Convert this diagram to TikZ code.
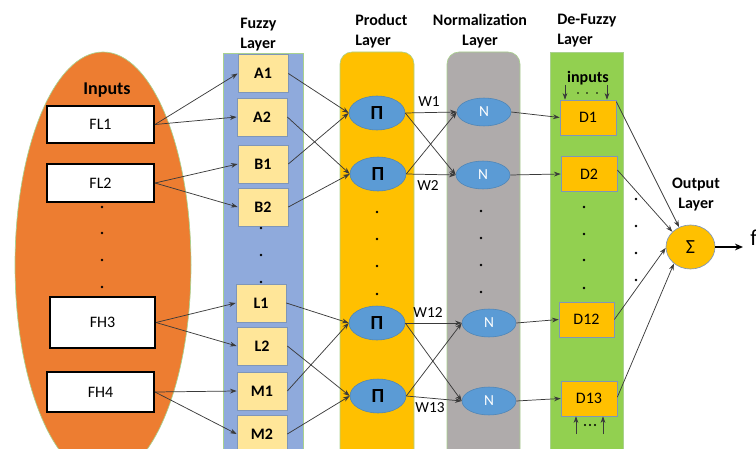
\documentclass[tikz,border=0pt]{standalone}
\usepackage{fontspec}
\setmainfont{Carlito}
\usetikzlibrary{arrows.meta,shapes.geometric}

\definecolor{inorange}{HTML}{ED7D31}
\definecolor{fuzzblue}{HTML}{8FAADC}
\definecolor{lightyel}{HTML}{FFE699}
\definecolor{gold}{HTML}{FFC000}
\definecolor{nodeblue}{HTML}{5B9BD5}
\definecolor{normgray}{HTML}{AFABAB}
\definecolor{defgreen}{HTML}{92D050}
\definecolor{rimgreen}{HTML}{A9D18E}
\definecolor{boxrim}{HTML}{7F96B8}
\definecolor{wire}{HTML}{3A3A3A}

\begin{document}
\begin{tikzpicture}[x=0.75pt,y=-0.75pt,
  every node/.style={font=\fontsize{12}{15}\selectfont},
  title/.style={font=\fontsize{12}{15}\selectfont\bfseries, inner sep=0pt},
  inbox/.style={draw=black, line width=1.5pt, fill=white,
    minimum width=80.25pt, minimum height=28pt, inner sep=0pt},
  fuzbox/.style={draw=boxrim, fill=lightyel, line width=0.5pt,
    minimum width=37.5pt, minimum height=28.5pt, inner sep=0pt,
    font=\fontsize{12}{15}\selectfont\bfseries},
  prodnode/.style={ellipse, draw=nodeblue!85!black, fill=nodeblue, line width=0.4pt,
    minimum width=42pt, minimum height=25.5pt, inner sep=0pt,
    font=\fontsize{15}{15}\selectfont\bfseries},
  normnode/.style={ellipse, draw=nodeblue!85!black, fill=nodeblue, line width=0.4pt,
    minimum width=40.5pt, minimum height=21pt, inner sep=0pt,
    text=white, font=\fontsize{11.5}{14}\selectfont},
  dbox/.style={draw=boxrim, fill=gold, line width=0.5pt,
    minimum width=42pt, minimum height=26.25pt, inner sep=0pt},
  conn/.style={draw=wire, line width=0.55pt,
    -{Stealth[length=5pt,width=3.6pt]}},
  wlab/.style={inner sep=0pt, font=\fontsize{11.5}{14}\selectfont},
]
\useasboundingbox (0,0) rectangle (756,449);
\clip (0,0) rectangle (756,449);

% ---- background shapes ----
\fill[inorange] (103,265) ellipse [x radius=66pt, y radius=159.75pt];
\draw[rimgreen, line width=0.5pt] (103,265) ellipse [x radius=66pt, y radius=159.75pt];
\draw[rimgreen, line width=0.5pt, fill=fuzzblue] (223,53) rectangle (303,470);
\draw[rimgreen, line width=0.5pt, fill=gold, rounded corners=9pt] (340,52) rectangle (414,480);
\draw[rimgreen, line width=0.5pt, fill=normgray, rounded corners=9pt] (447,52) rectangle (520,480);
\draw[rimgreen, line width=0.5pt, fill=defgreen] (550,52) rectangle (623,470);

% ---- titles ----
\node[title, font=\fontsize{13.5}{15}\selectfont\bfseries] (tin) at (107,90) {Inputs};
\node[title, align=left, anchor=west] (tfuz) at (240,35) {Fuzzy\\Layer};
\node[title, align=left, anchor=west] (tprod) at (355,31) {Product\\Layer};
\node[title, align=center] (tnorm) at (480,31) {Normalization\\Layer};
\node[title, align=left, anchor=west] (tdef) at (557,31) {De-Fuzzy\\Layer};
\node[title, align=center] (tout) at (696,195) {Output\\Layer};

% ---- input boxes ----
\node[inbox] (FL1) at (100.5,124.5) {FL1};
\node[inbox, minimum height=28.5pt] (FL2) at (100.5,183) {FL2};
\node[inbox, minimum width=78.75pt, minimum height=38.25pt] (FH3) at (102.5,322.5) {FH3};
\node[inbox, minimum height=30pt] (FH4) at (100.5,392) {FH4};

% ---- fuzzy layer ----
\node[fuzbox] (A1) at (263,73.5) {A1};
\node[fuzbox] (A2) at (262,117) {A2};
\node[fuzbox] (B1) at (263,164) {B1};
\node[fuzbox] (B2) at (263,207) {B2};
\node[fuzbox] (L1) at (261,303) {L1};
\node[fuzbox] (L2) at (262,346) {L2};
\node[fuzbox] (M1) at (262,391) {M1};
\node[fuzbox] (M2) at (262,434) {M2};

% ---- product layer ----
\node[prodnode] (P1) at (377,113) {Π};
\node[prodnode] (P2) at (378,174) {Π};
\node[prodnode] (P3) at (377,323) {Π};
\node[prodnode] (P4) at (378,396) {Π};

% ---- normalization layer ----
\node[normnode] (N1) at (484,112) {N};
\node[normnode] (N2) at (483,175) {N};
\node[normnode] (N3) at (489,323) {N};
\node[normnode] (N4) at (489,401) {N};

% ---- de-fuzzy layer ----
\node[dbox] (D1) at (588,117.5) {D1};
\node[dbox] (D2) at (589,174) {D2};
\node[dbox, minimum width=41.25pt] (D12) at (586.5,319.5) {D12};
\node[dbox] (D13) at (589,398.5) {D13};

% ---- output neuron ----
\node[ellipse, draw=boxrim, fill=gold, line width=0.5pt, minimum width=36.75pt,
  minimum height=33pt, inner sep=0pt, font=\fontsize{15}{15}\selectfont] (sig) at (690.5,247) {Σ};
\coordinate (fout) at (743,247);
\node[anchor=west, inner sep=0pt, font=\fontsize{17}{17}\selectfont] (fx) at (750,238) {f};

% ---- vertical ellipsis dots ----
\foreach \y in {207,233,260,287} \fill (102,\y) circle [radius=1.1pt];
\foreach \y in {228,255,282} \fill (261,\y) circle [radius=1.1pt];
\foreach \y in {212,239,266,294} \fill (377,\y) circle [radius=1.1pt];
\foreach \y in {211,238,265,292} \fill (481,\y) circle [radius=1.1pt];
\foreach \y in {207,234,260,288} \fill (584,\y) circle [radius=1.1pt];
\foreach \y in {199,226,253,280} \fill (636,\y) circle [radius=1.1pt];

% ---- inputs -> fuzzy layer ----
\draw[conn] (FL1.east) -- (A1.west);
\draw[conn] (FL1.east) -- (A2.west);
\draw[conn] (FL2.east) -- (B1.west);
\draw[conn] (FL2.east) -- (B2.west);
\draw[conn] (FH3.east) -- (L1.west);
\draw[conn] (FH3.east) -- (L2.west);
\draw[conn] (FH4.east) -- (M1.west);
\draw[conn] (FH4.east) -- (M2.west);

% ---- fuzzy -> product ----
\draw[conn] (A1.east) -- (P1.west);
\draw[conn] (B1.east) -- (P1.west);
\draw[conn] (A2.east) -- (P2.west);
\draw[conn] (B2.east) -- (P2.west);
\draw[conn] (L1.east) -- (P3.west);
\draw[conn] (M1.east) -- (P3.west);
\draw[conn] (L2.east) -- (P4.west);
\draw[conn] (M2.east) -- (P4.west);

% ---- product -> normalization ----
\draw[conn] (P1.east) -- (N1.west);
\draw[conn] (P1.east) -- (N2.west);
\draw[conn] (P2.east) -- (N1.west);
\draw[conn] (P2.east) -- (N2.west);
\draw[conn] (P3.east) -- (N3.west);
\draw[conn] (P3.east) -- (N4.west);
\draw[conn] (P4.east) -- (N3.west);
\draw[conn] (P4.east) -- (N4.west);
\node[wlab] (w1) at (429,102) {W1};
\node[wlab] (w2) at (428,186) {W2};
\node[wlab] (w12) at (428,313) {W12};
\node[wlab] (w13) at (430,408) {W13};

% ---- normalization -> de-fuzzy ----
\draw[conn] (N1.east) -- (D1.west);
\draw[conn] (N2.east) -- (D2.west);
\draw[conn] (N3.east) -- (D12.west);
\draw[conn] (N4.east) -- (D13.west);

% ---- extra inputs of the de-fuzzy nodes ----
\node[title, font=\fontsize{12}{14}\selectfont\bfseries] (tinputs) at (588,78) {inputs};
\coordinate (ia) at (565,85);
\coordinate (ib) at (607,85);
\draw[conn] (ia) -- (ia |- D1.north);
\draw[conn] (ib) -- (ib |- D1.north);
\foreach \x in {578,587,597} \fill (\x,93) circle [radius=0.7pt];
\coordinate (ic) at (576,434);
\coordinate (id) at (603,434);
\draw[conn] (ic) -- (ic |- D13.south);
\draw[conn] (id) -- (id |- D13.south);
\foreach \x in {585,590,595} \fill (\x,425) circle [radius=0.8pt];

% ---- de-fuzzy -> output ----
\draw[conn] ([yshift=-1.5pt]D1.north east) -- (sig.120);
\draw[conn] ([yshift=3pt]D2.east) -- (sig.140);
\draw[conn] (D12.east) -- (sig.182);
\draw[conn] ([yshift=1pt]D13.east) -- (sig.225);
\draw[draw=black, line width=1.6pt, -{Stealth[length=6pt,width=5pt]}] (sig.east) -- (fout);

\end{tikzpicture}
\end{document}
